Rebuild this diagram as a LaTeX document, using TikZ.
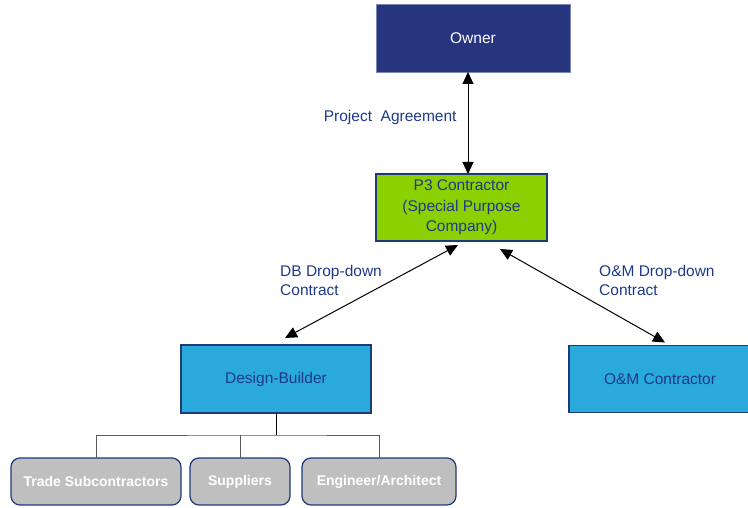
\documentclass[tikz,border=0pt]{standalone}
\usepackage{fontspec}
\setmainfont{Liberation Sans}
\usetikzlibrary{positioning,arrows.meta}
\definecolor{ownerblue}{HTML}{27357F}
\definecolor{limegreen}{HTML}{8CD000}
\definecolor{cyanbox}{HTML}{29A9DC}
\definecolor{navytext}{HTML}{1D3A8A}
\definecolor{navyline}{HTML}{1F3A7A}
\definecolor{greybox}{HTML}{BFBFBF}
\tikzset{%
  party/.style={
    draw=navyline,
    line width=1.2pt,
    outer sep=0pt,
    inner sep=0pt,
    align=center
  },
  deal/.style={
    text=navytext,
    align=left,
    inner sep=0pt,
    font=\fontsize{15.5}{19}\selectfont
  },
}

\begin{document}
\begin{tikzpicture}[x=1pt,y=1pt,>={Triangle[length=12pt,width=11pt]},font=\fontsize{15.5}{20.5}\selectfont]
        \tikzstyle{sub}=[party,rounded corners=9pt,fill=greybox,text=white,minimum height=47pt,font=\fontsize{14}{16}\selectfont\bfseries]
        \useasboundingbox (0,0) rectangle (748,508);

        \node[party,fill=ownerblue,draw=ownerblue!60!white,line width=0.8pt,text=white,minimum width=194pt,minimum height=68pt] (owner) at (473,470) {Owner};
        \node[party,fill=limegreen,text=navytext,minimum width=171pt,minimum height=67pt,below=102pt of owner.south west,anchor=north west] (p3) {P3 Contractor\\(Special Purpose\\Company)};
        \node[party,fill=cyanbox,text=navytext,minimum width=190pt,minimum height=68pt] (db) at (276,129) {Design-Builder};
        \node[party,fill=cyanbox,text=navytext,minimum width=182pt,minimum height=67pt] (om) at (660,129) {O\&M Contractor};

        \node[sub,minimum width=170pt] (trade) at (96,26.5) {Trade Subcontractors};
        \node[sub,minimum width=100pt,right=9pt of trade] (suppliers) {Suppliers};
        \node[sub,minimum width=154pt,right=12pt of suppliers] (engineer) {Engineer/Architect};

        \draw[<->,line width=1pt] ([xshift=-5pt]owner.south) -- node[deal,pos=.45,left=11pt] (pa) {Project\ \ Agreement} ([xshift=6.5pt]p3.north);
        \draw[<->,line width=1pt] ([shift={(-3.5pt,-4pt)}]p3.south) -- ([shift={(9pt,7pt)}]db.north);
        \draw[<->,line width=1pt] ([shift={(38.5pt,-8pt)}]p3.south) -- ([shift={(5pt,3pt)}]om.north);

        \node[deal,anchor=north west] (dblabel) at (280,243) {DB Drop-down\\Contract};
        \node[deal,anchor=north west] (omlabel) at (599,243) {O\&M Drop-down\\Contract};

        \coordinate[below=22pt of db] (split);
        \draw[line width=0.8pt] (db.south) -- (split);
        \draw[line width=0.8pt,black!65] (trade.north) |- (split) -| (engineer.north);
        \draw[line width=0.8pt,black!65] (suppliers.north) -- (suppliers.north |- split);
    \end{tikzpicture}
\end{document}
